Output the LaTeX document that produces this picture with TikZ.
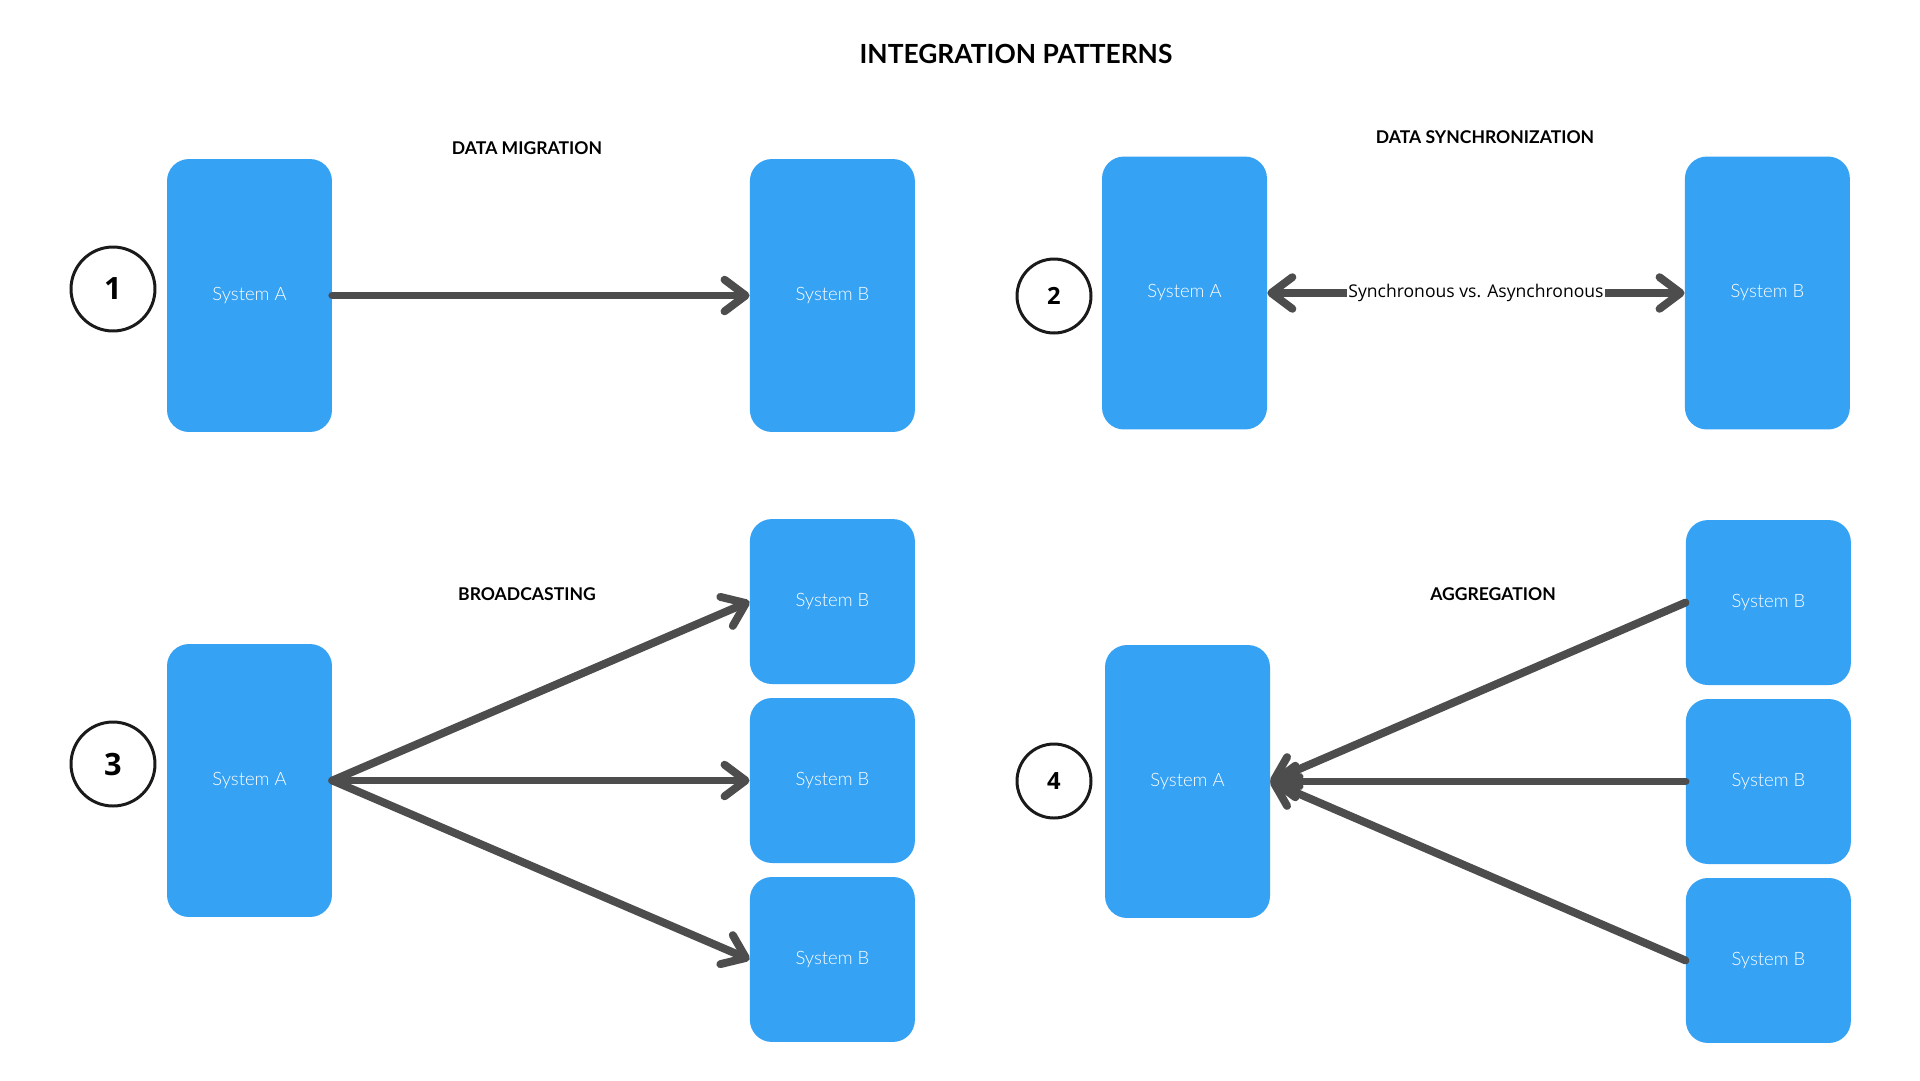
\documentclass[tikz,border=0pt]{standalone}
\usepackage{fontspec}
\setmainfont{Lato}
\newfontfamily\thinfont{Lato Light}
\newfontfamily\opensans{Open Sans}
\usetikzlibrary{positioning,arrows.meta}
\definecolor{sysblue}{HTML}{36A2F4}
\definecolor{flowgray}{HTML}{4D4D4D}
\definecolor{ringblack}{HTML}{1A1A1A}

\begin{document}
\begin{tikzpicture}[x=0.02cm,y=-0.02cm,node distance=11.66cm,
                    >={Straight Barb[length=12pt,width=18pt,round]}]
  \tikzstyle{system}=[rectangle,rounded corners=12.5pt,fill=sysblue,text=white,
                      minimum width=3.3cm,minimum height=5.46cm,inner sep=0pt,
                      font=\thinfont\fontsize{10.5}{12}\selectfont]
  \tikzstyle{minibox}=[system,minimum height=3.3cm]
  \tikzstyle{flow}=[draw=flowgray,line width=4.5pt,line cap=round]
  \tikzstyle{num}=[circle,draw=ringblack,line width=1.7pt,minimum size=1.68cm,
                   font=\opensans\bfseries\fontsize{17.5}{20}\selectfont]
  \tikzstyle{numsmall}=[num,minimum size=1.48cm,
                        font=\opensans\bfseries\fontsize{13.5}{16}\selectfont]
  \tikzstyle{heading}=[font=\bfseries\fontsize{10}{12}\selectfont]

  \useasboundingbox (0,0) rectangle (1920,1080);

  \node[font=\bfseries\fontsize{15}{18}\selectfont] (title) at (1016,54)
       {INTEGRATION PATTERNS};

  % 1: migration
  \node[system]  (A1) at (249.5,295.5) {System A};
  \node[system]  (B1) [right of=A1]    {System B};
  \node[num]     (n1) at (113,289)     {1};
  \node[heading] (h1) at (527,148)     {DATA MIGRATION};

  % 2: synchronization
  \node[system]   (A2) at (1184.5,293) {System A};
  \node[system]   (B2) [right of=A2]   {System B};
  \node[numsmall] (n2) at (1054,296)   {2};
  \node[heading]  (h2) at (1485,137)   {DATA SYNCHRONIZATION};

  % 3: broadcasting
  \node[system]  (A3)  at (249.5,780.5) {System A};
  \node[minibox] (B3b) [right of=A3]    {System B};
  \node[minibox] (B3a) [above of=B3b, node distance=3.58cm] {System B};
  \node[minibox] (B3c) [below of=B3b, node distance=3.58cm] {System B};
  \node[num]     (n3)  at (113,764)     {3};
  \node[heading] (h3)  at (527,594)     {BROADCASTING};

  % 4: aggregation
  \node[system]   (A4)  at (1187.5,781.5) {System A};
  \node[minibox]  (B4b) [right of=A4, node distance=11.62cm] {System B};
  \node[minibox]  (B4a) [above of=B4b, node distance=3.58cm] {System B};
  \node[minibox]  (B4c) [below of=B4b, node distance=3.58cm] {System B};
  \node[numsmall] (n4)  at (1054,781)     {4};
  \node[heading]  (h4)  at (1493,594)     {AGGREGATION};

  \draw[flow,->] (A1) -- (B1);
  \draw[flow,<->] (A2) -- node[fill=white,inner sep=1pt,
                               font=\opensans\fontsize{10}{12}\selectfont]
                              {Synchronous vs. Asynchronous} (B2);
  \foreach \b in {B3a,B3b,B3c}
    \draw[flow,->] (A3.east) -- (\b.west);
  \foreach \b in {B4a,B4b,B4c}
    \draw[flow,->] (\b.west) -- (A4.east);
\end{tikzpicture}
\end{document}
